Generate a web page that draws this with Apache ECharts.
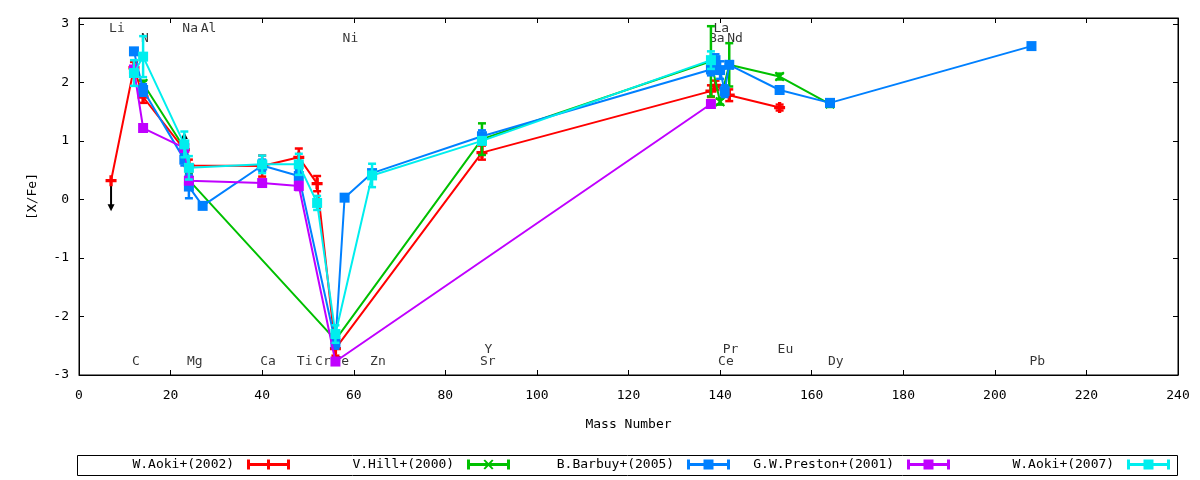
<!DOCTYPE html>
<html>
<head>
<meta charset="utf-8">
<script src="https://cdn.jsdelivr.net/npm/echarts@6/dist/echarts.min.js"></script>
<style>
  html, body { margin: 0; padding: 0; background: #fff; }
  #main { width: 1200px; height: 480px; }
</style>
</head>
<body>
<div id="main"></div>
<script>
// W.Aoki+(2002)
var aoki02Mass = [7, 12, 14, 23, 24, 40, 48, 52, 56, 88, 138, 139, 142, 153];
var aoki02Val  = [0.32, 2.25, 1.75, 0.85, 0.58, 0.57, 0.72, 0.27, -2.55, 0.8, 1.85, 1.95, 1.78, 1.57];
var aoki02Err  = [0, 0.1, 0.1, 0.1, 0.1, 0.18, 0.15, 0.13, 0.12, 0.12, 0.1, 0.08, 0.1, 0.05];
// V.Hill+(2000)
var hillMass = [14, 23, 24, 56, 88, 138, 140, 142, 153, 164];
var hillVal  = [1.98, 0.88, 0.33, -2.4, 1.03, 2.36, 1.67, 2.3, 2.1, 1.63];
var hillErr  = [0.05, 0.1, 0.1, 0.1, 0.27, 0.6, 0.05, 0.37, 0.05, 0.05];
// B.Barbuy+(2005)
var barbuyMass = [12, 14, 23, 24, 27, 40, 48, 56, 58, 64, 88, 138, 139, 140, 141, 142, 153, 164, 208];
var barbuyVal  = [2.53, 1.87, 0.68, 0.22, -0.11, 0.58, 0.4, -2.45, 0.03, 0.45, 1.08, 2.22, 2.38, 2.21, 1.85, 2.3, 1.87, 1.65, 2.62];
var barbuyErr  = [0, 0.1, 0.1, 0.2, 0, 0.1, 0.1, 0.1, 0, 0, 0.1, 0.1, 0.1, 0.15, 0.1, 0, 0, 0, 0];
// G.W.Preston+(2001)
var prestonMass = [12, 14, 23, 24, 40, 48, 56, 138];
var prestonVal  = [2.22, 1.22, 0.88, 0.32, 0.28, 0.23, -2.77, 1.63];
var prestonErr  = [0.05, 0.05, 0.05, 0.05, 0, 0.07, 0, 0];
// W.Aoki+(2007)
var aoki07Mass = [12, 14, 23, 24, 40, 48, 52, 56, 64, 88, 138];
var aoki07Val  = [2.16, 2.44, 0.94, 0.54, 0.6, 0.6, -0.06, -2.3, 0.41, 1.0, 2.38];
var aoki07Err  = [0.22, 0.35, 0.22, 0.2, 0.15, 0.18, 0.12, 0.15, 0.2, 0.05, 0.15];

// limit arrows (black)
var arrowMass = [7, 23];
var arrowFrom = [0.32, 0.9];
var arrowTo   = [-0.2, 1.15];

// element labels
var elemNames = ['Li', 'N', 'Na', 'Al', 'Ni', 'La', 'Ba', 'Nd',
                 'C', 'Mg', 'Ca', 'Ti', 'Cr', 'Fe', 'Zn', 'Sr', 'Ce', 'Dy', 'Pb',
                 'Y', 'Pr', 'Eu'];
var elemMass  = [7, 14, 23, 27, 58, 139, 138, 142,
                 12, 24, 40, 48, 52, 56, 64, 88, 140, 164, 208,
                 89, 141, 153];
var elemY     = [2.92, 2.75, 2.92, 2.92, 2.75, 2.92, 2.75, 2.75,
                 -2.78, -2.78, -2.78, -2.78, -2.78, -2.78, -2.78, -2.78, -2.78, -2.78, -2.78,
                 -2.56, -2.56, -2.56];

var FONT = 'DejaVu Sans Mono';
var chart = echarts.init(document.getElementById('main'));

var plusPath = 'path://M3.5,0H6.5V3.5H10V6.5H6.5V10H3.5V6.5H0V3.5H3.5Z';
var crossPath = 'path://M0,1.5L1.5,0L5,3.5L8.5,0L10,1.5L6.5,5L10,8.5L8.5,10L5,6.5L1.5,10L0,8.5L3.5,5Z';

// legend icons: line + caps + marker, drawn in a 43x10 box
var iconBase = 'M0,0H3V3.5H40V0H43V10H40V6.5H3V10H0Z';
var iconPlus = 'path://' + iconBase + 'M20,0H23V10H20Z';
var iconCross = 'path://' + iconBase + 'M16.5,1L18,0L21.5,3.5L25,0L26.5,1L23,5L26.5,9L25,10L21.5,6.5L18,10L16.5,9L20,5Z';
var iconSquare = 'path://' + iconBase + 'M16.5,0H26.5V10H16.5Z';

function zip3(m, v, e) {
  var out = [];
  for (var i = 0; i < m.length; i++) out.push([m[i], v[i], e[i]]);
  return out;
}

function errorBars(name, color, m, v, e, z) {
  return {
    type: 'custom',
    name: name + '_err',
    z: z,
    silent: true,
    data: zip3(m, v, e),
    renderItem: function (params, api) {
      var err = api.value(2);
      if (!err) return null;
      var x = api.value(0), y = api.value(1);
      var hi = api.coord([x, y + err]);
      var lo = api.coord([x, y - err]);
      var w = 4;
      var st = { stroke: color, lineWidth: 2.5 };
      return {
        type: 'group',
        children: [
          { type: 'line', shape: { x1: hi[0], y1: hi[1], x2: lo[0], y2: lo[1] }, style: st },
          { type: 'line', shape: { x1: hi[0] - w, y1: hi[1], x2: hi[0] + w, y2: hi[1] }, style: st },
          { type: 'line', shape: { x1: lo[0] - w, y1: lo[1], x2: lo[0] + w, y2: lo[1] }, style: st }
        ]
      };
    }
  };
}

function lineSeries(name, color, symbol, size, m, v, z) {
  var data = [];
  for (var i = 0; i < m.length; i++) data.push([m[i], v[i]]);
  return {
    type: 'line',
    name: name,
    z: z,
    data: data,
    symbol: symbol,
    symbolSize: size,
    showAllSymbol: true,
    lineStyle: { color: color, width: 2 },
    itemStyle: { color: color, borderWidth: 0 }
  };
}

var groups = [
  ['W.Aoki+(2002)', '#ff0000', plusPath, 11, aoki02Mass, aoki02Val, aoki02Err, iconPlus],
  ['V.Hill+(2000)', '#00c000', crossPath, 10, hillMass, hillVal, hillErr, iconCross],
  ['B.Barbuy+(2005)', '#0080ff', 'rect', 10, barbuyMass, barbuyVal, barbuyErr, iconSquare],
  ['G.W.Preston+(2001)', '#c000ff', 'rect', 10, prestonMass, prestonVal, prestonErr, iconSquare],
  ['W.Aoki+(2007)', '#00eeee', 'rect', 10, aoki07Mass, aoki07Val, aoki07Err, iconSquare]
];

var series = [];
var legends = [];
groups.forEach(function (g, k) {
  var z = 3 + k;
  series.push(lineSeries(g[0], g[1], g[2], g[3], g[4], g[5], z));
  series.push(errorBars(g[0], g[1], g[4], g[5], g[6], z));
  // one legend per entry, in fixed 220px columns, text right-aligned before the sample
  legends.push({
    data: [{ name: g[0], icon: g[7] }],
    right: 1200 - (290 + 220 * k),
    top: 458,
    align: 'right',
    itemWidth: 43,
    itemHeight: 10,
    padding: 0,
    selectedMode: false,
    formatter: '{name} ',
    textStyle: { fontFamily: FONT, fontSize: 13, color: '#000' }
  });
});

// black limit arrows (drawn under the data marks)
var arrowData = [];
for (var i = 0; i < arrowMass.length; i++) arrowData.push([arrowMass[i], arrowFrom[i], arrowTo[i]]);
series.push({
  type: 'custom',
  name: 'limits',
  z: 2,
  silent: true,
  data: arrowData,
  renderItem: function (params, api) {
    var a = api.coord([api.value(0), api.value(1)]);
    var b = api.coord([api.value(0), api.value(2)]);
    var dir = b[1] > a[1] ? 1 : -1;
    return {
      type: 'group',
      children: [
        { type: 'line', shape: { x1: a[0], y1: a[1], x2: b[0], y2: b[1] - dir * 4 }, style: { stroke: '#000', lineWidth: 2 } },
        { type: 'polygon', shape: { points: [[b[0], b[1]], [b[0] - 3.5, b[1] - dir * 7], [b[0] + 3.5, b[1] - dir * 7]] }, style: { fill: '#000' } }
      ]
    };
  }
});

// element name labels
var elemData = [];
for (var j = 0; j < elemNames.length; j++) elemData.push({ name: elemNames[j], value: [elemMass[j], elemY[j]] });
series.push({
  type: 'scatter',
  name: 'elements',
  z: 1,
  silent: true,
  symbolSize: 0,
  data: elemData,
  label: {
    show: true,
    position: 'right',
    distance: -2,
    formatter: '{b}',
    color: '#000',
    fontFamily: FONT,
    fontSize: 13
  }
});

var axisText = { fontFamily: FONT, fontSize: 13, color: '#000' };

var option = {
  animation: false,
  backgroundColor: '#fff',
  grid: {
    left: 79, right: 22, top: 18, bottom: 105,
    show: true, borderColor: '#000', borderWidth: 1
  },
  legend: legends,
  // frame around the key
  graphic: [{
    type: 'rect',
    silent: true,
    shape: { x: 77.5, y: 455.5, width: 1100, height: 20 },
    style: { fill: 'none', stroke: '#000', lineWidth: 1 }
  }],
  xAxis: [{
    type: 'value', min: 0, max: 240, interval: 20,
    name: 'Mass Number', nameLocation: 'middle', nameGap: 43,
    nameTextStyle: axisText,
    axisLine: { onZero: false, lineStyle: { color: '#000' } },
    axisTick: { inside: true, length: 5, lineStyle: { color: '#000' } },
    axisLabel: { fontFamily: FONT, fontSize: 13, color: '#000', margin: 14 },
    splitLine: { show: false }
  }, {
    type: 'value', min: 0, max: 240, interval: 20, position: 'top',
    axisLine: { onZero: false, lineStyle: { color: '#000' } },
    axisTick: { inside: true, length: 5, lineStyle: { color: '#000' } },
    axisLabel: { show: false },
    splitLine: { show: false }
  }],
  yAxis: [{
    type: 'value', min: -3, max: 3.1, interval: 1,
    name: '[X/Fe]', nameLocation: 'middle', nameGap: 40,
    nameTextStyle: axisText,
    axisLine: { show: true, onZero: false, lineStyle: { color: '#000' } },
    axisTick: { show: true, inside: true, length: 5, lineStyle: { color: '#000' } },
    axisLabel: { fontFamily: FONT, fontSize: 13, color: '#000', margin: 10, showMaxLabel: false },
    splitLine: { show: false }
  }, {
    type: 'value', min: -3, max: 3.1, interval: 1, position: 'right',
    axisLine: { show: true, onZero: false, lineStyle: { color: '#000' } },
    axisTick: { show: true, inside: true, length: 5, lineStyle: { color: '#000' } },
    axisLabel: { show: false },
    splitLine: { show: false }
  }],
  series: series
};

chart.setOption(option);
</script>
</body>
</html>
